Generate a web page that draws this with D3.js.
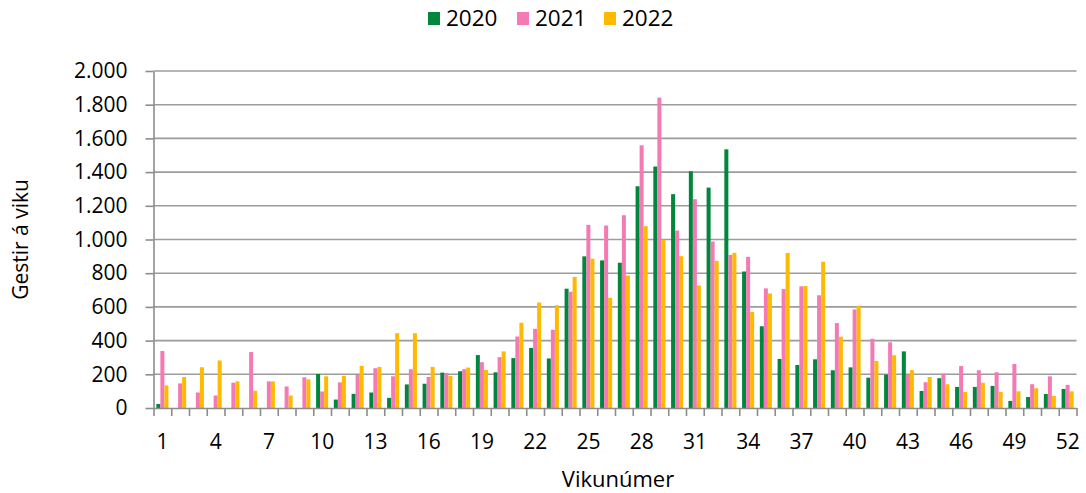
<!DOCTYPE html>
<html>
<head>
<meta charset="utf-8">
<script src="https://cdn.jsdelivr.net/npm/d3@7"></script>
<style>
  body { margin: 0; background: #fff; }
  svg text { font-family: "Open Sans", sans-serif; fill: #000; }
</style>
</head>
<body>
<svg id="chart" width="1086" height="493"></svg>
<script>
// Weekly guests, 2020-2022
const weeks = d3.range(1, 53);
const years = ["2020", "2021", "2022"];
const colors = ["#00873D", "#F47AB4", "#FFB900"];

const y2020 = [24,0,0,0,0,0,0,0,0,202,50,84,92,60,140,144,210,218,314,212,296,356,294,708,900,876,862,1316,1433,1269,1405,1308,1535,810,485,291,255,289,224,241,180,198,336,101,177,125,125,131,42,65,83,113];
const y2021 = [338,146,92,74,150,332,158,128,182,98,152,196,236,188,230,184,208,230,272,302,424,470,464,690,1087,1083,1144,1559,1842,1053,1239,988,909,897,710,706,722,669,504,585,411,390,196,153,204,249,224,212,261,141,188,137];
const y2022 = [134,184,242,282,158,102,158,74,170,188,190,250,244,444,444,244,190,240,226,336,506,626,610,778,886,654,786,1079,998,901,727,873,921,570,680,920,724,868,423,607,279,313,225,184,141,95,150,95,99,117,71,99];

const yTicks = d3.range(0, 2001, 200);
const xLabels = weeks.filter(w => (w - 1) % 3 === 0);

const series = [y2020, y2021, y2022];

const W = 1086, H = 493;
const margin = {top: 71, right: 9.5, bottom: 85, left: 153.5};
const svg = d3.select("#chart");

const x = d3.scaleBand().domain(weeks).range([margin.left, W - margin.right]).paddingInner(0.32).paddingOuter(0.16);
const xSub = d3.scaleBand().domain(years).range([0, x.bandwidth()]);
const xEdge = d3.scaleLinear().domain([0, 52]).range([margin.left, W - margin.right]);
const y = d3.scaleLinear().domain([0, 2000]).range([H - margin.bottom, margin.top]);

const nf = d3.formatLocale({decimal: ",", thousands: ".", grouping: [3], currency: ["", ""]}).format(",");

// gridlines
svg.append("g").selectAll("line").data(yTicks.slice(1)).join("line")
    .attr("x1", margin.left).attr("x2", W - margin.right)
    .attr("y1", d => y(d)).attr("y2", d => y(d))
    .attr("stroke", "#9c9c9c").attr("stroke-width", 1.6);

// bars
years.forEach((yr, i) => {
    svg.append("g").attr("fill", colors[i]).selectAll("rect")
        .data(weeks.map((w, k) => ({w, v: series[i][k]})).filter(d => d.v > 0))
        .join("rect")
        .attr("x", d => x(d.w) + xSub(yr))
        .attr("width", xSub.bandwidth())
        .attr("y", d => y(d.v))
        .attr("height", d => y(0) - y(d.v));
});

// y axis
const yAxis = svg.append("g").attr("transform", `translate(${margin.left},0)`)
    .call(d3.axisLeft(y).tickValues(yTicks).tickFormat(nf).tickSize(8).tickPadding(18).tickSizeOuter(0));
yAxis.selectAll("line, path").attr("stroke", "#8c8c8c").attr("stroke-width", 1.6);
yAxis.selectAll("text").style("font-size", "21px").attr("fill", "#000");

// x axis: boundary ticks
const xAxis = svg.append("g").attr("transform", `translate(0,${y(0)})`)
    .call(d3.axisBottom(xEdge).tickValues(d3.range(0, 53)).tickFormat("").tickSize(8).tickSizeOuter(0));
xAxis.selectAll("line, path").attr("stroke", "#8c8c8c").attr("stroke-width", 1.6);

// x labels every third week
const xLab = svg.append("g").attr("transform", `translate(0,${y(0)})`)
    .call(d3.axisBottom(x).tickValues(xLabels).tickSize(0).tickPadding(26));
xLab.select(".domain").remove();
xLab.selectAll("text").style("font-size", "21px").attr("fill", "#000");

// axis titles
svg.append("text").attr("x", 618).attr("y", 487)
    .attr("text-anchor", "middle").style("font-size", "22px").text("Vikunúmer");
svg.append("text").attr("transform", `translate(28,${(y(0) + y(2000)) / 2}) rotate(-90)`)
    .attr("text-anchor", "middle").style("font-size", "21px").text("Gestir á viku");

// legend
const legX = [428, 517, 604];
const leg = svg.append("g");
years.forEach((yr, i) => {
    leg.append("rect").attr("x", legX[i]).attr("y", 12).attr("width", 12).attr("height", 13).attr("fill", colors[i]);
    leg.append("text").attr("x", legX[i] + 18).attr("y", 26).style("font-size", "22.5px").text(yr);
});
</script>
</body>
</html>
